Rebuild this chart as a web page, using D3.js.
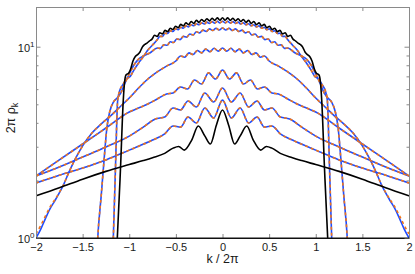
<!DOCTYPE html>
<html>
<head>
<meta charset="utf-8">
<script src="https://cdn.jsdelivr.net/npm/d3@7"></script>
<style>
body { margin: 0; background: #fff; }
svg text { font-family: "Liberation Sans", Arial, sans-serif; fill: #1a1a1a; }
</style>
</head>
<body>
<svg id="chart" width="415" height="274"></svg>
<script>
// tick values / labels
const xTicks = [-2, -1.5, -1, -0.5, 0, 0.5, 1, 1.5, 2];
const xTickLabels = ["\u22122", "\u22121.5", "\u22121", "\u22120.5", "0", "0.5", "1", "1.5", "2"];
const yMajor = [1, 10];
const yMajorExp = ["0", "1"];
const yMinor = [2, 3, 4, 5, 6, 7, 8, 9];

// black curves: [k/2pi, 2pi rho_k]
const blackA = [[-1.16,0.6],[-1.128,1.0],[-1.094,2.30],[-1.064,5.26],[-1.05,6.54],[-1.035,7.11],[-1.005,7.29],[-0.985,7.65],[-0.96,8.42],[-0.935,8.89],[-0.91,9.10],[-0.885,9.38],[-0.86,9.96],[-0.835,10.27],[-0.81,10.45],[-0.785,10.71],
  [-0.756,10.96],[-0.728,11.47],[-0.700,11.32],[-0.672,11.84],[-0.644,11.67],[-0.616,12.18],[-0.588,11.99],[-0.560,12.50],[-0.532,12.30],[-0.504,12.80],[-0.476,12.57],[-0.448,13.08],[-0.420,12.83],[-0.392,13.32],[-0.364,13.05],[-0.336,13.54],[-0.308,13.25],[-0.280,13.73],[-0.252,13.41],[-0.224,13.87],[-0.196,13.54],[-0.168,14.01],[-0.140,13.64],[-0.112,14.09],[-0.084,13.73],[-0.056,14.15],[-0.028,13.76],
  [0,14.16],
  [0.028,13.76],[0.056,14.15],[0.084,13.73],[0.112,14.09],[0.140,13.64],[0.168,14.01],[0.196,13.54],[0.224,13.87],[0.252,13.41],[0.280,13.73],[0.308,13.25],[0.336,13.54],[0.364,13.05],[0.392,13.32],[0.420,12.83],[0.448,13.08],[0.476,12.57],[0.504,12.80],[0.532,12.30],[0.560,12.50],[0.588,11.99],[0.616,12.18],[0.644,11.67],[0.672,11.84],[0.700,11.32],[0.728,11.47],[0.756,10.96],
  [0.785,10.71],[0.81,10.45],[0.835,10.27],[0.86,9.96],[0.885,9.38],[0.91,9.10],[0.935,8.89],[0.96,8.42],[0.985,7.65],[1.005,7.29],[1.035,7.11],[1.05,6.54],[1.064,5.26],[1.094,2.30],[1.128,1.0],[1.16,0.6]];

const blackB = [[-2.0,1.66],[-1.75,1.83],[-1.50,2.03],[-1.25,2.23],[-1.00,2.42],[-0.85,2.54],[-0.75,2.63],[-0.62,2.77],[-0.53,2.95],[-0.47,3.01],[-0.41,2.88],[-0.33,3.25],[-0.26,3.85],[-0.19,3.42],[-0.13,3.10],[-0.065,3.90],
  [0,4.67],
  [0.065,3.90],[0.13,3.10],[0.19,3.42],[0.26,3.85],[0.33,3.25],[0.41,2.88],[0.47,3.01],[0.53,2.95],[0.62,2.77],[0.75,2.63],[0.85,2.54],[1.00,2.42],[1.25,2.23],[1.50,2.03],[1.75,1.83],[2.0,1.66]];

// blue solid / orange dashed curves
const b1 = [[-1.19,0.6],[-1.171,1.0],[-1.148,2.30],[-1.124,5.26],[-1.10,5.94],[-1.07,6.31],[-1.03,6.78],[-0.99,6.98],[-0.95,7.55],[-0.90,8.22],[-0.85,8.85],[-0.80,9.61],[-0.75,10.21],
  [-0.700,10.87],[-0.672,11.32],[-0.644,11.33],[-0.616,11.76],[-0.588,11.72],[-0.560,12.11],[-0.532,12.02],[-0.504,12.39],[-0.476,12.27],[-0.448,12.63],[-0.420,12.50],[-0.392,12.85],[-0.364,12.69],[-0.336,13.03],[-0.308,12.86],[-0.280,13.19],[-0.252,13.02],[-0.224,13.33],[-0.196,13.14],[-0.168,13.44],[-0.140,13.24],[-0.112,13.52],[-0.084,13.29],[-0.056,13.58],[-0.028,13.33],
  [0,13.59],
  [0.028,13.33],[0.056,13.58],[0.084,13.29],[0.112,13.52],[0.140,13.24],[0.168,13.44],[0.196,13.14],[0.224,13.33],[0.252,13.02],[0.280,13.19],[0.308,12.86],[0.336,13.03],[0.364,12.69],[0.392,12.85],[0.420,12.50],[0.448,12.63],[0.476,12.27],[0.504,12.39],[0.532,12.02],[0.560,12.11],[0.588,11.72],[0.616,11.76],[0.644,11.33],[0.672,11.32],[0.700,10.87],
  [0.75,10.21],[0.80,9.61],[0.85,8.85],[0.90,8.22],[0.95,7.55],[0.99,6.98],[1.03,6.78],[1.07,6.31],[1.10,5.94],[1.124,5.26],[1.148,2.30],[1.171,1.0],[1.19,0.6]];

const b2 = [[-1.36,0.6],[-1.338,1.0],[-1.30,1.68],[-1.27,2.56],[-1.24,3.76],[-1.21,4.56],[-1.17,5.14],[-1.13,5.39],[-1.09,5.73],[-1.05,6.38],[-1.00,7.20],[-0.95,8.02],[-0.90,8.62],[-0.85,8.94],[-0.78,9.27],
  [-0.700,9.84],[-0.665,9.80],[-0.630,10.23],[-0.595,10.17],[-0.560,10.61],[-0.525,10.52],[-0.490,10.98],[-0.455,10.89],[-0.420,11.33],[-0.385,11.22],[-0.350,11.65],[-0.315,11.53],[-0.280,11.97],[-0.245,11.81],[-0.210,12.21],[-0.175,12.02],[-0.140,12.39],[-0.105,12.16],[-0.070,12.50],[-0.035,12.22],
  [0,12.53],
  [0.035,12.22],[0.070,12.50],[0.105,12.16],[0.140,12.39],[0.175,12.02],[0.210,12.21],[0.245,11.81],[0.280,11.97],[0.315,11.53],[0.350,11.65],[0.385,11.22],[0.420,11.33],[0.455,10.89],[0.490,10.98],[0.525,10.52],[0.560,10.61],[0.595,10.17],[0.630,10.23],[0.665,9.80],[0.700,9.84],
  [0.78,9.27],[0.85,8.94],[0.90,8.62],[0.95,8.02],[1.00,7.20],[1.05,6.38],[1.09,5.73],[1.13,5.39],[1.17,5.14],[1.21,4.56],[1.24,3.76],[1.27,2.56],[1.30,1.68],[1.338,1.0],[1.36,0.6]];

const b3 = [[-2.0,1.00],[-1.95,1.11],[-1.90,1.26],[-1.85,1.42],[-1.80,1.56],[-1.75,1.72],[-1.70,1.92],[-1.65,2.19],[-1.60,2.47],[-1.55,2.75],[-1.50,3.03],[-1.40,3.54],[-1.30,3.95],[-1.20,4.35],[-1.10,4.84],[-1.00,5.39],[-0.90,6.08],[-0.80,6.78],[-0.70,7.38],[-0.60,7.92],[-0.50,8.42],
  [-0.45,8.95],[-0.405,8.81],[-0.36,9.29],[-0.315,9.10],[-0.27,9.55],[-0.225,9.29],[-0.18,9.72],[-0.135,9.41],[-0.09,9.81],[-0.045,9.48],
  [0,9.84],
  [0.045,9.48],[0.09,9.81],[0.135,9.41],[0.18,9.72],[0.225,9.29],[0.27,9.55],[0.315,9.10],[0.36,9.29],[0.405,8.81],[0.45,8.95],
  [0.50,8.42],[0.60,7.92],[0.70,7.38],[0.80,6.78],[0.90,6.08],[1.00,5.39],[1.10,4.84],[1.20,4.35],[1.30,3.95],[1.40,3.54],[1.50,3.03],[1.55,2.75],[1.60,2.47],[1.65,2.19],[1.70,1.92],[1.75,1.72],[1.80,1.56],[1.85,1.42],[1.90,1.26],[1.95,1.11],[2.0,1.00]];

// dashed version of b3 separates slightly in the far wings
const b3Dashed = [[-2.0,1.05],[-1.95,1.16],[-1.90,1.30],[-1.85,1.45],[-1.80,1.58],[-1.75,1.73],[-1.70,1.92],[-1.65,2.19],[-1.60,2.47],[-1.55,2.75],[-1.50,3.03],[-1.40,3.54],[-1.30,3.95],[-1.20,4.35],[-1.10,4.84],[-1.00,5.39],[-0.90,6.08],[-0.80,6.78],[-0.70,7.38],[-0.60,7.92],[-0.50,8.42],
  [-0.45,8.95],[-0.405,8.81],[-0.36,9.29],[-0.315,9.10],[-0.27,9.55],[-0.225,9.29],[-0.18,9.72],[-0.135,9.41],[-0.09,9.81],[-0.045,9.48],
  [0,9.84],
  [0.045,9.48],[0.09,9.81],[0.135,9.41],[0.18,9.72],[0.225,9.29],[0.27,9.55],[0.315,9.10],[0.36,9.29],[0.405,8.81],[0.45,8.95],
  [0.50,8.42],[0.60,7.92],[0.70,7.38],[0.80,6.78],[0.90,6.08],[1.00,5.39],[1.10,4.84],[1.20,4.35],[1.30,3.95],[1.40,3.54],[1.50,3.03],[1.55,2.75],[1.60,2.47],[1.65,2.19],[1.70,1.92],[1.75,1.73],[1.80,1.58],[1.85,1.45],[1.90,1.30],[1.95,1.16],[2.0,1.05]];

const b4 = [[-2.0,2.11],[-1.75,2.56],[-1.50,3.10],[-1.25,3.76],[-1.00,4.56],[-0.90,4.78],[-0.80,5.02],[-0.70,5.33],[-0.60,5.66],[-0.53,5.73],[-0.45,6.16],[-0.375,6.01],[-0.30,6.70],[-0.225,6.38],[-0.15,7.30],[-0.075,6.78],
  [0,7.55],
  [0.075,6.78],[0.15,7.30],[0.225,6.38],[0.30,6.70],[0.375,6.01],[0.45,6.16],[0.53,5.73],[0.60,5.66],[0.70,5.33],[0.80,5.02],[0.90,4.78],[1.00,4.56],[1.25,3.76],[1.50,3.10],[1.75,2.56],[2.0,2.11]];

const b5 = [[-2.0,2.11],[-1.75,2.35],[-1.50,2.65],[-1.25,2.99],[-1.00,3.41],[-0.85,3.80],[-0.72,4.19],[-0.62,4.29],[-0.53,4.78],[-0.45,4.67],[-0.37,5.20],[-0.28,4.84],[-0.19,5.73],[-0.095,5.14],
  [0,6.08],
  [0.095,5.14],[0.19,5.73],[0.28,4.84],[0.37,5.20],[0.45,4.67],[0.53,4.78],[0.62,4.29],[0.72,4.19],[0.85,3.80],[1.00,3.41],[1.25,2.99],[1.50,2.65],[1.75,2.35],[2.0,2.11]];

const b6 = [[-2.0,1.94],[-1.75,2.13],[-1.50,2.32],[-1.25,2.56],[-1.00,2.88],[-0.75,3.25],[-0.62,3.50],[-0.53,3.85],[-0.45,3.80],[-0.37,4.29],[-0.28,3.99],[-0.19,4.78],[-0.095,4.24],
  [0,5.26],
  [0.095,4.24],[0.19,4.78],[0.28,3.99],[0.37,4.29],[0.45,3.80],[0.53,3.85],[0.62,3.50],[0.75,3.25],[1.00,2.88],[1.25,2.56],[1.50,2.32],[1.75,2.13],[2.0,1.94]];

const blueSeries = [b1, b2, b3, b4, b5, b6];
const dashedSeries = [b1, b2, b3Dashed, b4, b5, b6];
const blackSeries = [blackB, blackA];

const svg = d3.select("#chart");
const plotL = 36, plotR = 409, plotT = 7, plotB = 238;

const x = d3.scaleLinear().domain([-2, 2]).range([plotL, plotR]);
const y = d3.scaleLog().domain([1, 16.13]).range([plotB, plotT]);

svg.append("defs").append("clipPath").attr("id", "plotclip")
  .append("rect").attr("x", plotL).attr("y", plotT)
  .attr("width", plotR - plotL).attr("height", plotB - plotT);

const line = d3.line()
  .x(d => x(d[0]))
  .y(d => y(d[1]))
  .curve(d3.curveMonotoneX);

const plot = svg.append("g").attr("clip-path", "url(#plotclip)");

plot.selectAll("path.blue").data(blueSeries).enter().append("path")
  .attr("class", "blue")
  .attr("d", line)
  .attr("fill", "none")
  .attr("stroke", "#1f4dff")
  .attr("stroke-width", 1.6);

plot.selectAll("path.orange").data(dashedSeries).enter().append("path")
  .attr("class", "orange")
  .attr("d", line)
  .attr("fill", "none")
  .attr("stroke", "#f07418")
  .attr("stroke-width", 1.6)
  .attr("stroke-dasharray", "3,3");

plot.selectAll("path.black").data(blackSeries).enter().append("path")
  .attr("class", "black")
  .attr("d", line)
  .attr("fill", "none")
  .attr("stroke", "#000")
  .attr("stroke-width", 1.6);

// axes (ticks pointing inward)
const gray = "#8a8a8a";

const xBottom = svg.append("g").attr("transform", `translate(0,${plotB})`)
  .call(d3.axisBottom(x).tickValues(xTicks).tickFormat((d, i) => xTickLabels[i])
    .tickSize(-4).tickSizeOuter(0).tickPadding(5.5));
xBottom.select(".domain").attr("stroke", "#111");
xBottom.selectAll(".tick line").attr("stroke", gray);
xBottom.selectAll(".tick text").style("font-size", "11px").attr("fill", "#1a1a1a");

const xTop = svg.append("g").attr("transform", `translate(0,${plotT})`)
  .call(d3.axisTop(x).tickValues(xTicks).tickFormat("").tickSize(-4).tickSizeOuter(0));
xTop.select(".domain").attr("stroke", gray);
xTop.selectAll(".tick line").attr("stroke", gray);

function yAxes(axisFn, xpos) {
  const gMaj = svg.append("g").attr("transform", `translate(${xpos},0)`)
    .call(axisFn(y).tickValues(yMajor).tickFormat("").tickSize(-4.5).tickSizeOuter(0));
  gMaj.select(".domain").attr("stroke", gray);
  gMaj.selectAll(".tick line").attr("stroke", gray);
  const gMin = svg.append("g").attr("transform", `translate(${xpos},0)`)
    .call(axisFn(y).tickValues(yMinor).tickFormat("").tickSize(-2.5).tickSizeOuter(0));
  gMin.select(".domain").remove();
  gMin.selectAll(".tick line").attr("stroke", gray);
}
yAxes(d3.axisLeft, plotL);
yAxes(d3.axisRight, plotR);
// redraw bottom line on top of side axes
svg.append("line").attr("x1", plotL).attr("x2", plotR).attr("y1", plotB).attr("y2", plotB)
  .attr("stroke", "#111");

// y tick labels 10^n
yMajor.forEach((v, i) => {
  const t = svg.append("text")
    .attr("x", plotL - 1.5)
    .attr("y", y(v) + 5)
    .attr("text-anchor", "end")
    .style("font-size", "11px");
  t.append("tspan").text("10");
  t.append("tspan").attr("dy", -5).style("font-size", "8px").text(yMajorExp[i]);
});

// axis titles
svg.append("text")
  .attr("x", (plotL + plotR) / 2)
  .attr("y", 263)
  .attr("text-anchor", "middle")
  .style("font-size", "12.5px")
  .text("k / 2\u03c0");

const yl = svg.append("text")
  .attr("transform", "translate(15,118) rotate(-90)")
  .attr("text-anchor", "middle")
  .style("font-size", "12.5px");
yl.append("tspan").text("2\u03c0 \u03c1");
yl.append("tspan").attr("dy", 3).style("font-size", "9px").text("k");
</script>
</body>
</html>
